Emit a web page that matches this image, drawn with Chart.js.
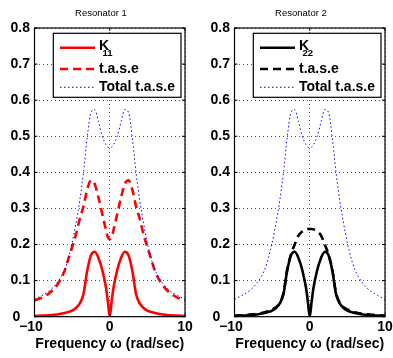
<!DOCTYPE html>
<html>
<head>
<meta charset="utf-8">
<script src="https://cdn.jsdelivr.net/npm/chart.js@4.4.0/dist/chart.umd.min.js"></script>
<style>
  html, body { margin: 0; padding: 0; background: #fff; }
  #wrap { position: relative; width: 393px; height: 358px; overflow: hidden; }
  canvas { position: absolute; top: 0; }
  #c1 { left: 0; }
  #c2 { left: 200px; }
</style>
</head>
<body>
<div id="wrap">
  <canvas id="c1" width="202" height="358"></canvas>
  <canvas id="c2" width="202" height="358"></canvas>
</div>
<script>
// frequency samples (rad/sec)
const freq = [-10, -9, -8, -7, -6, -5.5, -5, -4.5, -4, -3.5, -3, -2.5, -2, -1.5, -1, -0.5, -0.25,
  0, 0.25, 0.5, 1, 1.5, 2, 2.5, 3, 3.5, 4, 4.5, 5, 5.5, 6, 7, 8, 9, 10];

// resonator 1
const k11 = [0.002, 0.003, 0.004, 0.006, 0.01, 0.013, 0.017, 0.024, 0.036, 0.062, 0.127, 0.17, 0.18, 0.163, 0.13, 0.08, 0.042,
  0, 0.042, 0.08, 0.13, 0.163, 0.18, 0.17, 0.127, 0.062, 0.036, 0.024, 0.017, 0.013, 0.01, 0.006, 0.004, 0.003, 0.002];
const tase1 = [0.045, 0.053, 0.066, 0.088, 0.127, 0.16, 0.193, 0.227, 0.27, 0.305, 0.352, 0.378, 0.368, 0.33, 0.285, 0.24, 0.22,
  0.215, 0.22, 0.24, 0.285, 0.33, 0.368, 0.378, 0.352, 0.305, 0.27, 0.227, 0.193, 0.16, 0.127, 0.088, 0.066, 0.053, 0.045];

// resonator 2
const k22 = [0.002, 0.003, 0.004, 0.006, 0.01, 0.013, 0.017, 0.024, 0.036, 0.062, 0.127, 0.17, 0.18, 0.163, 0.13, 0.08, 0.042,
  0, 0.042, 0.08, 0.13, 0.163, 0.18, 0.17, 0.127, 0.062, 0.036, 0.024, 0.017, 0.013, 0.01, 0.006, 0.004, 0.003, 0.002];
const tase2 = [0.003, 0.004, 0.006, 0.008, 0.012, 0.016, 0.02, 0.026, 0.038, 0.065, 0.13, 0.172, 0.2, 0.225, 0.236, 0.242, 0.243,
  0.243, 0.243, 0.242, 0.236, 0.225, 0.2, 0.172, 0.13, 0.065, 0.038, 0.026, 0.02, 0.016, 0.012, 0.008, 0.006, 0.004, 0.003];

// total t.a.s.e (same on both panels)
const totalTase = [0.048, 0.059, 0.072, 0.094, 0.13, 0.162, 0.204, 0.258, 0.32, 0.398, 0.495, 0.566, 0.574, 0.54, 0.5, 0.477, 0.47,
  0.468, 0.47, 0.477, 0.5, 0.54, 0.574, 0.566, 0.495, 0.398, 0.32, 0.258, 0.204, 0.162, 0.13, 0.094, 0.072, 0.059, 0.048];

Chart.defaults.font.family = "'Liberation Sans', Arial, sans-serif";
Chart.defaults.color = '#000';

// box, inward ticks and the boxed legend like matlab
const frameLegend = {
  id: 'frameLegend',
  afterDraw(chart) {
    const ctx = chart.ctx;
    const a = chart.chartArea;
    ctx.save();
    ctx.strokeStyle = '#000';
    ctx.lineWidth = 1.2;
    ctx.strokeRect(a.left, a.top, a.right - a.left, a.bottom - a.top);
    ctx.lineWidth = 1;
    chart.scales.y.ticks.forEach(t => {
      const py = chart.scales.y.getPixelForValue(t.value);
      ctx.beginPath();
      ctx.moveTo(a.left, py); ctx.lineTo(a.left + 3, py);
      ctx.moveTo(a.right, py); ctx.lineTo(a.right - 3, py);
      ctx.stroke();
    });
    chart.scales.x.ticks.forEach(t => {
      const px = chart.scales.x.getPixelForValue(t.value);
      ctx.beginPath();
      ctx.moveTo(px, a.bottom); ctx.lineTo(px, a.bottom - 3);
      ctx.moveTo(px, a.top); ctx.lineTo(px, a.top + 3);
      ctx.stroke();
    });

    // legend
    const x0 = a.left + 18.8, y0 = a.top + 5.3, x1 = a.right - 4, y1 = a.top + 69.3;
    ctx.fillStyle = '#fff';
    ctx.fillRect(x0, y0, x1 - x0, y1 - y0);
    ctx.strokeStyle = '#000';
    ctx.lineWidth = 1.2;
    ctx.strokeRect(x0, y0, x1 - x0, y1 - y0);
    const lineY = [19.7, 41, 59.3];
    const baseY = [22, 44.7, 63.3];
    chart.data.datasets.forEach((ds, i) => {
      const y = a.top + lineY[i];
      ctx.strokeStyle = ds.borderColor;
      ctx.lineWidth = ds.borderWidth;
      ctx.setLineDash(ds.borderDash || []);
      ctx.beginPath();
      ctx.moveTo(a.left + 25.5, y);
      ctx.lineTo(a.left + 60.5, y);
      ctx.stroke();
      ctx.setLineDash([]);
      ctx.fillStyle = '#000';
      ctx.textBaseline = 'alphabetic';
      ctx.textAlign = 'left';
      ctx.font = "bold 14px 'Liberation Sans', Arial, sans-serif";
      ctx.fillText(ds.label, a.left + 64.5, a.top + baseY[i]);
      if (ds.sub) {
        ctx.font = "bold 9.5px 'Liberation Sans', Arial, sans-serif";
        ctx.fillText(ds.sub, a.left + 68, a.top + 28);
      }
    });
    ctx.restore();
  }
};

function buildPanel(id, title, sets) {
  const canvas = document.getElementById(id);
  return new Chart(canvas, {
    type: 'line',
    data: {
      datasets: sets.map(s => ({
        label: s.label,
        sub: s.sub,
        data: freq.map((f, i) => ({ x: f, y: s.values[i] })),
        borderColor: s.color,
        borderWidth: s.width,
        borderDash: s.dash,
        order: s.order,
        pointRadius: 0,
        fill: false,
        cubicInterpolationMode: 'monotone'
      }))
    },
    options: {
      responsive: false,
      animation: false,
      events: [],
      layout: { padding: 0 },
      plugins: {
        legend: { display: false },
        tooltip: { enabled: false },
        title: {
          display: true,
          text: title,
          font: { size: 9.5, weight: 'normal' },
          color: '#000',
          padding: { top: 7.6, bottom: 9 }
        }
      },
      scales: {
        x: {
          type: 'linear',
          min: -10,
          max: 10,
          ticks: {
            stepSize: 10,
            autoSkip: false,
            maxRotation: 0,
            padding: 2.5,
            font: { size: 14, weight: 'bold' },
            callback: v => v < 0 ? '\u2212' + Math.abs(v) + '\u2002' : String(v)
          },
          grid: { color: 'rgba(0,0,0,0.65)', lineWidth: 1, drawTicks: false },
          border: { display: false, dash: [1, 3] },
          title: {
            display: true,
            text: 'Frequency \u03c9 (rad/sec)',
            font: { size: 14, weight: 'bold' },
            padding: { top: 0, bottom: 5.6 }
          },
          afterFit: s => { s.height = 41.3; }
        },
        y: {
          min: 0,
          max: 0.8,
          ticks: {
            stepSize: 0.1,
            padding: 4.5,
            font: { size: 14, weight: 'bold' },
            callback: v => v === 0 ? '0\u2002\u2009' : v.toFixed(1)
          },
          grid: { color: 'rgba(0,0,0,0.65)', lineWidth: 1, drawTicks: false },
          border: { display: false, dash: [1, 3] },
          afterFit: s => { s.width = 34.5; }
        },
        y2: {
          position: 'right',
          min: 0,
          max: 0.8,
          ticks: { display: false },
          grid: { display: false },
          border: { display: false },
          afterFit: s => { s.width = 17; }
        }
      }
    },
    plugins: [frameLegend]
  });
}

buildPanel('c1', 'Resonator 1', [
  { label: 'K', sub: '11', values: k11, color: '#ff0000', width: 2.6, dash: [], order: 2 },
  { label: 't.a.s.e', values: tase1, color: '#ff0000', width: 2.6, dash: [8, 5], order: 1 },
  { label: 'Total t.a.s.e', values: totalTase, color: '#0000ff', width: 1, dash: [1.5, 2.5], order: 0 }
]);

buildPanel('c2', 'Resonator 2', [
  { label: 'K', sub: '22', values: k22, color: '#000000', width: 2.6, dash: [], order: 2 },
  { label: 't.a.s.e', values: tase2, color: '#000000', width: 2.6, dash: [8, 5], order: 1 },
  { label: 'Total t.a.s.e', values: totalTase, color: '#0000ff', width: 1, dash: [1.5, 2.5], order: 0 }
]);
</script>
</body>
</html>
